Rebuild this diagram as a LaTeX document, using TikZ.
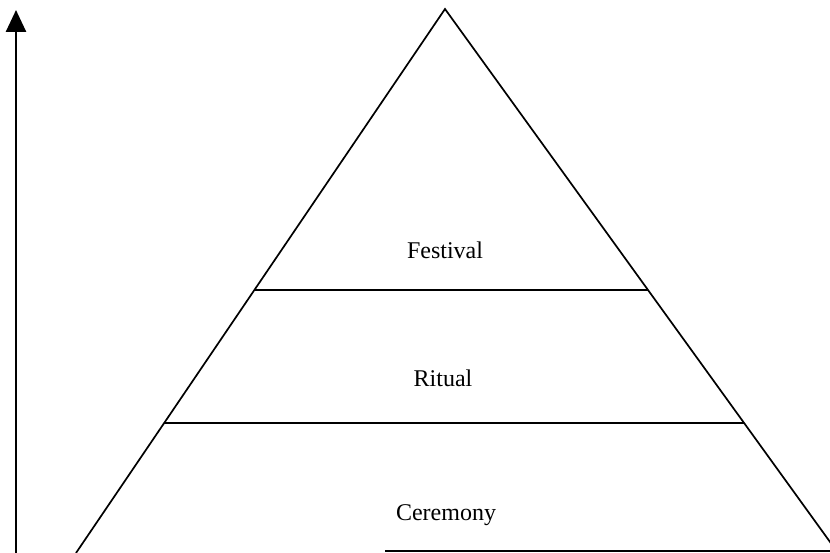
\documentclass[tikz,border=0pt]{standalone}
\usepackage{fontspec}
\setmainfont{Liberation Serif}
\usetikzlibrary{arrows.meta,calc}
\begin{document}
\begin{tikzpicture}[x=1pt,y=-1pt,
  edge/.style={line width=1.7pt,black},
  axis/.style={line width=2.6pt,-{Triangle[length=22pt,width=20pt]}},
  tier/.style={font=\fontsize{24}{28}\selectfont,inner sep=0pt}]
  \useasboundingbox (0,0) rectangle (830,553);
  \clip (0,0) rectangle (830,553);
  % corners of the pyramid
  \coordinate (apex) at (445,9);
  \coordinate (bl) at (76,553);
  \coordinate (br) at (838,553);
  % ends of the dividing lines
  \coordinate (t1l) at ($(apex)!0.5165!(bl)$);
  \coordinate (t1r) at ($(apex)!0.5165!(br)$);
  \coordinate (t2l) at ($(apex)!0.761!(bl)$);
  \coordinate (t2r) at ($(apex)!0.761!(br)$);
  \coordinate (b0) at (385,551);
  \coordinate (b1) at (838,551);
  % vertical axis
  \coordinate (ax0) at (16,556);
  \coordinate (ax1) at (16,10);
  \draw[axis] (ax0) -- (ax1);
  % pyramid outline and tiers
  \draw[edge] (bl) -- (apex) -- (br);
  \draw[edge] (t1l) -- (t1r);
  \draw[edge] (t2l) -- (t2r);
  \draw[edge] (b0) -- (b1);
  % tier labels
  \node[tier] (festival) at (445,250) {Festival};
  \node[tier] (ritual) at (443,378) {Ritual};
  \node[tier] (ceremony) at (446,515) {Ceremony};
\end{tikzpicture}
\end{document}
